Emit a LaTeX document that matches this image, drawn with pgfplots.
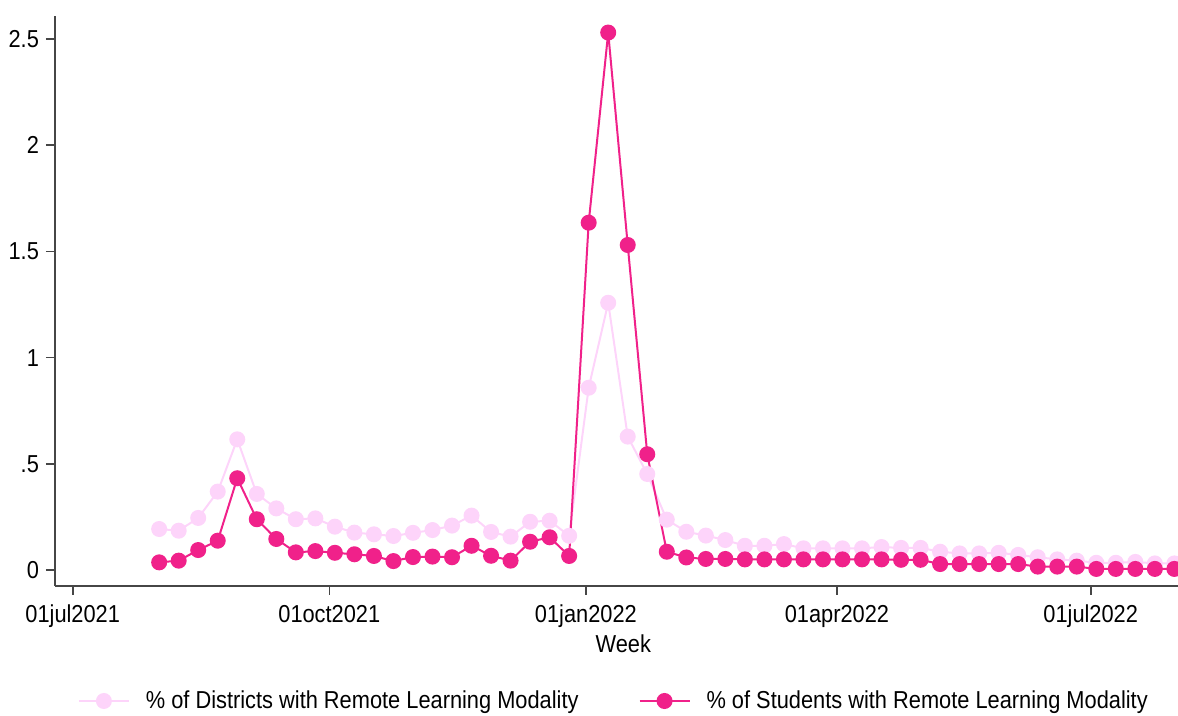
\documentclass[border=0pt]{standalone}
\usepackage{fontspec}
\setmainfont[FakeStretch=0.89]{Liberation Sans}
\usepackage{pgfplots}
\pgfplotsset{compat=1.18}
\definecolor{darkpink}{RGB}{240,33,138}
\definecolor{lightpink}{RGB}{253,212,250}
\definecolor{axisgray}{RGB}{70,70,70}
\begin{document}
\begin{tikzpicture}
\useasboundingbox (-27.5pt,-65pt) rectangle (561.5pt,293pt);
\begin{axis}[
  at={(0,0)}, anchor=south west,
  scale only axis, width=561.5pt, height=285pt,
  xmin=-6.35, xmax=396.3, ymin=-0.0753, ymax=2.608,
  axis x line*=bottom, axis y line*=left,
  axis line style={axisgray, line width=0.8pt},
  tick style={axisgray, line width=0.8pt},
  tick align=outside, major tick length=4.5pt,
  xtick={0,92,184,274,365},
  xticklabels={01jul2021,01oct2021,01jan2022,01apr2022,01jul2022},
  ytick={0,0.5,1,1.5,2,2.5},
  yticklabels={0,.5,1,1.5,2,2.5},
  tick label style={font=\fontsize{12.25}{14}\selectfont},
  xticklabel style={yshift=-1.5pt},
  /pgf/number format/assume math mode=true,
  xlabel={Week},
  xlabel style={font=\fontsize{12.25}{14}\selectfont, at={(axis description cs:0.506,0)}, anchor=base, yshift=-33.5pt},
  clip=false,
  legend style={at={(axis description cs:0.4985,0)}, anchor=center, yshift=-57.5pt, draw=none, fill=none,
    font=\fontsize{12.25}{14}\selectfont, legend columns=2,
    /tikz/every odd column/.append style={column sep=6pt},
    /tikz/every even column/.append style={column sep=28pt}},
  legend cell align=left,
  legend image code/.code={\draw[mark repeat=2,mark phase=2,#1] plot coordinates {(0pt,0pt)(12.5pt,0pt)(25pt,0pt)};},
]
\addplot[lightpink, line width=1pt, mark=*, mark size=3.5pt, mark options={fill=lightpink, draw=lightpink}] coordinates {
(31,0.193)(38,0.185)(45,0.245)(52,0.369)(59,0.615)(66,0.358)(73,0.290)(80,0.239)(87,0.243)(94,0.204)
(101,0.176)(108,0.168)(115,0.160)(122,0.175)(129,0.188)(136,0.209)(143,0.256)(150,0.179)(157,0.157)(164,0.227)
(171,0.232)(178,0.161)(185,0.858)(192,1.258)(199,0.628)(206,0.452)(213,0.237)(220,0.180)(227,0.162)(234,0.141)
(241,0.114)(248,0.114)(255,0.122)(262,0.102)(269,0.102)(276,0.102)(283,0.102)(290,0.108)(297,0.104)(304,0.104)
(311,0.086)(318,0.078)(325,0.078)(332,0.081)(339,0.071)(346,0.060)(353,0.050)(360,0.044)(367,0.034)(374,0.034)
(381,0.038)(388,0.031)(395,0.031)
};
\addlegendentry{\% of Districts with Remote Learning Modality}
\addplot[darkpink, line width=1pt, mark=*, mark size=3.5pt, mark options={fill=darkpink, draw=darkpink}] coordinates {
(31,0.036)(38,0.044)(45,0.094)(52,0.138)(59,0.432)(66,0.239)(73,0.146)(80,0.083)(87,0.089)(94,0.081)
(101,0.074)(108,0.066)(115,0.042)(122,0.061)(129,0.063)(136,0.060)(143,0.114)(150,0.067)(157,0.044)(164,0.133)
(171,0.154)(178,0.066)(185,1.635)(192,2.530)(199,1.530)(206,0.545)(213,0.086)(220,0.059)(227,0.052)(234,0.052)
(241,0.050)(248,0.050)(255,0.050)(262,0.050)(269,0.050)(276,0.050)(283,0.050)(290,0.050)(297,0.048)(304,0.048)
(311,0.028)(318,0.028)(325,0.028)(332,0.028)(339,0.028)(346,0.016)(353,0.016)(360,0.016)(367,0.005)(374,0.005)
(381,0.005)(388,0.005)(395,0.005)
};
\addlegendentry{\% of Students with Remote Learning Modality}
\end{axis}
\end{tikzpicture}
\end{document}
